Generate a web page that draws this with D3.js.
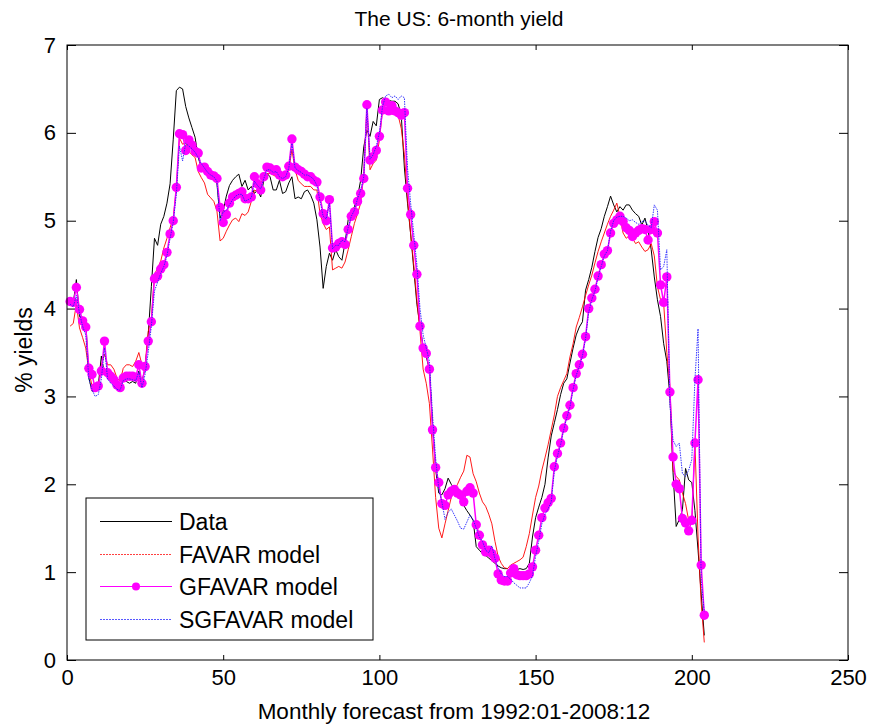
<!DOCTYPE html>
<html>
<head>
<meta charset="utf-8">
<script src="https://cdn.jsdelivr.net/npm/d3@7"></script>
<style>
  body { margin: 0; background: #fff; }
  svg text { font-family: "Liberation Sans", Arial, sans-serif; fill: #000; }
</style>
</head>
<body>
<svg id="chart" width="871" height="728"></svg>
<script>
// Observed 6-month yield and the three model forecasts, months 1..204
var dataYield = [
  4.08, 4.06, 4.33, 3.91, 3.90, 3.87, 3.21, 3.06, 3.06, 3.12,
  3.46, 3.25, 3.29, 3.19, 3.13, 3.10, 3.08, 3.21, 3.17, 3.15,
  3.17, 3.15, 3.29, 3.17, 3.32, 3.70, 4.25, 4.80, 4.72, 4.96,
  5.05, 5.20, 5.42, 5.92, 6.48, 6.52, 6.50, 6.30, 6.17, 6.06,
  5.95, 5.72, 5.60, 5.58, 5.56, 5.55, 5.53, 5.42, 5.03, 5.11,
  5.28, 5.40, 5.46, 5.50, 5.53, 5.39, 5.46, 5.35, 5.39, 5.31,
  5.35, 5.27, 5.46, 5.54, 5.50, 5.35, 5.35, 5.46, 5.31, 5.33,
  5.43, 5.50, 5.25, 5.27, 5.25, 5.33, 5.35, 5.29, 5.20, 5.01,
  4.70, 4.23, 4.48, 4.63, 4.55, 4.67, 4.59, 4.55, 4.75, 5.01,
  5.08, 5.16, 5.27, 5.46, 5.84, 6.03, 5.96, 6.13, 6.08, 6.38,
  6.40, 6.38, 6.37, 6.36, 6.36, 6.33, 6.20, 5.60, 5.20, 4.85,
  4.45, 4.05, 3.80, 3.57, 3.45, 3.31, 2.70, 2.17, 1.90, 1.88,
  1.95, 2.07, 2.00, 1.95, 1.88, 1.82, 1.76, 1.70, 1.65, 1.59,
  1.29, 1.25, 1.21, 1.19, 1.16, 1.13, 1.10, 1.07, 1.05, 1.04,
  1.04, 1.01, 1.00, 1.03, 1.04, 1.03, 1.04, 1.10, 1.40, 1.62,
  1.74, 1.85, 2.00, 2.30, 2.55, 2.70, 2.85, 3.02, 3.15, 3.20,
  3.38, 3.55, 3.70, 3.79, 3.85, 4.21, 4.33, 4.47, 4.65, 4.81,
  4.91, 5.05, 5.16, 5.28, 5.18, 5.10, 5.16, 5.12, 5.18, 5.18,
  5.12, 5.08, 5.05, 4.95, 5.03, 4.89, 4.67, 4.36, 4.10, 3.91,
  3.60, 3.40, 3.00, 2.13, 1.52, 1.60, 1.71, 2.18, 2.05, 2.02,
  1.70, 1.25, 0.75, 0.28
];

var favarYield = [
  3.80, 3.83, 4.05, 3.78, 3.67, 3.55, 3.29, 3.12, 3.06, 3.10,
  3.36, 3.48, 3.36, 3.36, 3.31, 3.21, 3.17, 3.32, 3.36, 3.36,
  3.34, 3.40, 3.50, 3.36, 3.36, 3.74, 3.89, 4.39, 4.46, 4.54,
  4.69, 4.80, 4.92, 5.03, 5.37, 5.94, 5.87, 5.89, 5.79, 5.75,
  5.72, 5.56, 5.49, 5.43, 5.30, 5.26, 5.22, 5.11, 4.77, 4.80,
  4.88, 4.95, 5.01, 5.03, 4.99, 5.08, 5.06, 5.10, 5.22, 5.35,
  5.33, 5.42, 5.50, 5.53, 5.54, 5.52, 5.50, 5.48, 5.50, 5.50,
  5.58, 5.81, 5.58, 5.46, 5.42, 5.39, 5.39, 5.39, 5.35, 5.35,
  5.08, 4.97, 4.90, 4.93, 4.44, 4.46, 4.48, 4.46, 4.53, 4.67,
  4.82, 4.97, 5.08, 5.20, 5.54, 6.30, 5.58, 5.65, 5.69, 5.92,
  6.26, 6.28, 6.25, 6.25, 6.22, 6.20, 6.05, 5.75, 5.25, 4.85,
  4.50, 4.10, 3.74, 3.31, 3.15, 2.92, 2.40, 1.85, 1.50, 1.39,
  1.55, 1.70, 1.85, 1.93, 2.00, 2.08, 2.15, 2.33, 2.31, 2.12,
  2.03, 1.90, 1.80, 1.75, 1.66, 1.55, 1.35, 1.18, 1.10, 1.05,
  1.04, 1.08, 1.10, 1.12, 1.14, 1.17, 1.29, 1.44, 1.65, 1.85,
  1.98, 2.16, 2.30, 2.45, 2.62, 2.79, 3.00, 3.10, 3.18, 3.26,
  3.45, 3.60, 3.79, 3.90, 4.02, 4.15, 4.27, 4.38, 4.52, 4.65,
  4.76, 4.86, 4.96, 5.05, 5.12, 5.20, 5.05, 4.86, 4.80, 4.83,
  4.80, 4.74, 4.76, 4.70, 4.65, 4.67, 4.74, 4.60, 4.25, 4.10,
  4.06, 3.50, 3.11, 2.16, 2.09, 2.05, 1.90, 1.78, 1.59, 1.56,
  2.47, 1.40, 0.65, 0.20
];

var gfavarYield = [
  4.08, 4.07, 4.24, 3.99, 3.86, 3.79, 3.32, 3.25, 3.10, 3.12,
  3.29, 3.63, 3.27, 3.23, 3.19, 3.13, 3.10, 3.21, 3.23, 3.23,
  3.23, 3.22, 3.36, 3.15, 3.34, 3.63, 3.85, 4.34, 4.37, 4.45,
  4.50, 4.64, 4.85, 5.00, 5.38, 5.99, 5.98, 5.80, 5.92, 5.86,
  5.79, 5.77, 5.60, 5.61, 5.56, 5.52, 5.51, 5.48, 5.15, 4.98,
  5.07, 5.20, 5.27, 5.29, 5.31, 5.33, 5.25, 5.25, 5.27, 5.50,
  5.42, 5.35, 5.50, 5.61, 5.60, 5.57, 5.58, 5.52, 5.50, 5.52,
  5.62, 5.93, 5.61, 5.58, 5.56, 5.53, 5.50, 5.50, 5.46, 5.44,
  5.27, 5.08, 5.00, 5.24, 4.69, 4.70, 4.74, 4.76, 4.73, 4.90,
  5.05, 5.10, 5.22, 5.31, 5.48, 6.32, 5.69, 5.73, 5.80, 5.96,
  6.26, 6.35, 6.25, 6.31, 6.25, 6.23, 6.20, 6.23, 5.37, 5.07,
  4.72, 4.39, 3.80, 3.55, 3.49, 3.31, 2.62, 2.19, 2.02, 1.78,
  1.76, 1.88, 1.92, 1.94, 1.90, 1.88, 1.80, 1.92, 1.96, 1.90,
  1.54, 1.42, 1.31, 1.23, 1.25, 1.21, 1.16, 0.98, 0.91, 0.90,
  0.90, 0.99, 1.04, 0.97, 0.96, 0.96, 0.96, 0.98, 1.06, 1.25,
  1.42, 1.62, 1.73, 1.79, 1.84, 2.20, 2.35, 2.47, 2.64, 2.78,
  2.90, 3.10, 3.26, 3.36, 3.48, 3.68, 4.00, 4.12, 4.22, 4.37,
  4.50, 4.62, 4.66, 4.86, 4.97, 5.01, 5.05, 4.99, 4.92, 4.89,
  4.82, 4.86, 4.89, 4.91, 4.90, 4.78, 4.90, 4.99, 4.86, 4.27,
  4.07, 4.36, 3.05, 2.31, 2.00, 1.95, 1.61, 1.56, 1.47, 1.59,
  2.47, 3.19, 1.08, 0.51
];

var sgfavarYield = [
  4.05, 4.02, 4.15, 3.95, 3.80, 3.70, 3.20, 3.08, 3.00, 3.02,
  3.20, 3.55, 3.20, 3.15, 3.12, 3.08, 3.07, 3.18, 3.20, 3.20,
  3.19, 3.18, 3.28, 3.10, 3.25, 3.50, 3.80, 4.20, 4.30, 4.40,
  4.48, 4.60, 4.80, 4.98, 5.30, 5.85, 5.68, 5.88, 5.85, 5.82,
  5.78, 5.72, 5.65, 5.60, 5.55, 5.52, 5.50, 5.45, 5.00, 5.10,
  5.12, 5.18, 5.24, 5.28, 5.30, 5.30, 5.22, 5.24, 5.26, 5.45,
  5.40, 5.36, 5.48, 5.58, 5.58, 5.55, 5.56, 5.50, 5.48, 5.50,
  5.60, 5.88, 5.60, 5.57, 5.55, 5.52, 5.52, 5.50, 5.47, 5.40,
  5.22, 5.05, 5.02, 5.20, 4.68, 4.72, 4.72, 4.78, 4.76, 4.92,
  5.05, 5.12, 5.25, 5.35, 5.50, 6.28, 5.70, 5.75, 5.85, 6.00,
  6.30, 6.42, 6.44, 6.40, 6.42, 6.38, 6.42, 6.40, 5.60, 5.20,
  4.85, 4.50, 4.00, 3.70, 3.55, 3.40, 2.80, 2.30, 1.95, 1.80,
  1.60, 1.68, 1.72, 1.65, 1.58, 1.50, 1.49, 1.57, 1.65, 1.60,
  1.50, 1.40, 1.35, 1.25, 1.22, 1.30, 1.15, 1.05, 0.98, 0.95,
  0.95, 0.92, 0.88, 0.85, 0.82, 0.82, 0.82, 0.88, 0.96, 1.18,
  1.35, 1.55, 1.66, 1.72, 1.80, 2.15, 2.32, 2.45, 2.62, 2.76,
  2.88, 3.08, 3.24, 3.34, 3.46, 3.66, 3.96, 4.10, 4.20, 4.35,
  4.48, 4.60, 4.66, 4.88, 5.00, 5.04, 5.05, 5.05, 5.03, 5.00,
  5.01, 4.98, 4.96, 4.99, 5.00, 4.95, 4.92, 5.18, 5.12, 4.44,
  4.48, 4.67, 2.90, 2.50, 2.43, 2.47, 2.12, 2.09, 2.16, 2.28,
  3.19, 3.77, 0.90, 0.55
];

var xTicks = [0, 50, 100, 150, 200, 250];
var yTicks = [0, 1, 2, 3, 4, 5, 6, 7];
var seriesNames = ['Data', 'FAVAR model', 'GFAVAR model', 'SGFAVAR model'];

(function() {
    var svg = d3.select('#chart');
    svg.append('rect').attr('width', 871).attr('height', 728).attr('fill', '#fff');

    var plotLeft = 67, plotRight = 848, plotTop = 45, plotBottom = 660;
    var x = d3.scaleLinear().domain([0, 250]).range([plotLeft, plotRight]);
    var y = d3.scaleLinear().domain([0, 7]).range([plotBottom, plotTop]);

    // Series styling (MATLAB look): black, thin red, magenta with dots, blue dotted
    // legendDash: how the short legend sample is stroked
    var series = [
        {name: seriesNames[0], values: dataYield,    color: '#000000', width: 1,   dash: null,    legendDash: null,  marker: false},
        {name: seriesNames[1], values: favarYield,   color: '#ff0000', width: 0.9, dash: null,    legendDash: '2,1', marker: false},
        {name: seriesNames[2], values: gfavarYield,  color: '#ff00ff', width: 1.5, dash: null,    legendDash: null,  marker: true},
        {name: seriesNames[3], values: sgfavarYield, color: '#2020ff', width: 0.9, dash: '1.5,1', legendDash: '2,1', marker: false}
    ];

    var line = d3.line()
        .x((d, i) => x(i + 1))
        .y((d) => y(d));

    // Axes: ticks point inward on all four sides
    function styleAxis(g) {
        g.select('.domain').remove();
        g.selectAll('line').attr('stroke', '#000').attr('stroke-width', 1);
        g.selectAll('text').attr('font-size', 22).attr('font-family', '"Liberation Sans", Arial, sans-serif');
    }

    svg.append('g')
        .attr('transform', 'translate(0,' + plotBottom + ')')
        .call(d3.axisBottom(x).tickValues(xTicks).tickFormat(d3.format('d')).tickSizeInner(-5).tickSizeOuter(0).tickPadding(9))
        .call(styleAxis);

    svg.append('g')
        .attr('transform', 'translate(0,' + plotTop + ')')
        .call(d3.axisTop(x).tickValues(xTicks).tickFormat('').tickSizeInner(-5).tickSizeOuter(0))
        .call(styleAxis);

    svg.append('g')
        .attr('transform', 'translate(' + plotLeft + ',0)')
        .call(d3.axisLeft(y).tickValues(yTicks).tickFormat(d3.format('d')).tickSizeInner(-9).tickSizeOuter(0).tickPadding(11))
        .call(styleAxis);

    svg.append('g')
        .attr('transform', 'translate(' + plotRight + ',0)')
        .call(d3.axisRight(y).tickValues(yTicks).tickFormat('').tickSizeInner(-9).tickSizeOuter(0))
        .call(styleAxis);

    // Plot lines
    var plot = svg.append('g');
    series.forEach(function(s) {
        plot.append('path')
            .datum(s.values)
            .attr('fill', 'none')
            .attr('stroke', s.color)
            .attr('stroke-width', s.width)
            .attr('stroke-dasharray', s.dash)
            .attr('d', line);
        if (s.marker) {
            plot.append('g').selectAll('circle')
                .data(s.values)
                .enter().append('circle')
                .attr('cx', (d, i) => x(i + 1))
                .attr('cy', (d) => y(d))
                .attr('r', 4.7)
                .attr('fill', s.color);
        }
    });

    // Box round the axes
    svg.append('rect')
        .attr('x', plotLeft).attr('y', plotTop)
        .attr('width', plotRight - plotLeft).attr('height', plotBottom - plotTop)
        .attr('fill', 'none').attr('stroke', '#000').attr('stroke-width', 1);

    // Title and labels
    svg.append('text')
        .attr('x', 459).attr('y', 26)
        .attr('text-anchor', 'middle').attr('font-size', 21)
        .text('The US: 6-month yield');

    svg.append('text')
        .attr('x', 454).attr('y', 719)
        .attr('text-anchor', 'middle').attr('font-size', 22.5)
        .text('Monthly forecast from 1992:01-2008:12');

    svg.append('text')
        .attr('transform', 'translate(32,350) rotate(-90)')
        .attr('text-anchor', 'middle').attr('font-size', 23)
        .text('% yields');

    // Legend
    var legend = svg.append('g').attr('transform', 'translate(86,498)');
    legend.append('rect')
        .attr('width', 287).attr('height', 142)
        .attr('fill', '#fff').attr('stroke', '#000').attr('stroke-width', 1);

    var rows = legend.selectAll('g.legenditem')
        .data(series)
        .enter().append('g')
        .classed('legenditem', true)
        .attr('transform', (d, i) => 'translate(0,' + (Math.round(23 + i * 32.7) + 0.5) + ')');

    rows.append('line')
        .attr('x1', 14).attr('x2', 86)
        .attr('stroke', (d) => d.color)
        .attr('stroke-width', 1)
        .attr('stroke-opacity', (d) => d.legendDash ? 0.75 : 1)
        .attr('stroke-dasharray', (d) => d.legendDash);

    rows.filter((d) => d.marker).append('circle')
        .attr('cx', 50).attr('r', 4).attr('fill', (d) => d.color);

    rows.append('text')
        .attr('x', 93).attr('dy', '0.36em')
        .attr('font-size', 23)
        .text((d) => d.name);
})();
</script>
</body>
</html>
